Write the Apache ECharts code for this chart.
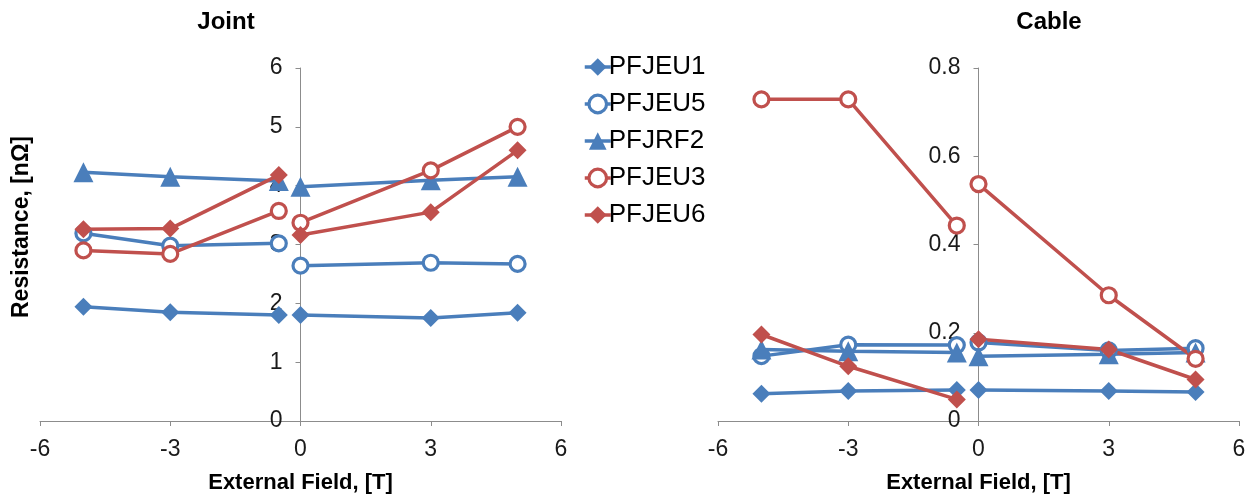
<!DOCTYPE html>
<html>
<head>
<meta charset="utf-8">
<script src="https://cdn.jsdelivr.net/npm/echarts@6/dist/echarts.min.js"></script>
<style>
  html, body { margin: 0; padding: 0; background: #fff; }
  #chart { width: 1249px; height: 494px; }
</style>
</head>
<body>
<div id="chart"></div>
<script>
// external field values (T), same for both panels
const fieldT = [-5, -3, -0.5, 0, 3, 5];
const seriesNames = ['PFJEU1', 'PFJEU5', 'PFJRF2', 'PFJEU3', 'PFJEU6'];
const xTicks = [-6, -3, 0, 3, 6];

// Joint resistance, nOhm
const jointPFJEU1 = [1.94, 1.85, 1.80, 1.80, 1.75, 1.84];
const jointPFJEU5 = [3.19, 2.98, 3.02, 2.64, 2.69, 2.67];
const jointPFJRF2 = [4.23, 4.15, 4.08, 3.98, 4.09, 4.15];
const jointPFJEU3 = [2.90, 2.84, 3.57, 3.37, 4.26, 5.00];
const jointPFJEU6 = [3.26, 3.27, 4.18, 3.16, 3.55, 4.60];

// Cable resistance, nOhm
const cablePFJEU1 = [0.062, 0.068, 0.070, 0.070, 0.068, 0.066];
const cablePFJEU5 = [0.147, 0.173, 0.172, 0.178, 0.160, 0.165];
const cablePFJRF2 = [0.162, 0.158, 0.155, 0.147, 0.151, 0.155];
const cablePFJEU3 = [0.729, 0.729, 0.443, 0.537, 0.285, 0.141];
const cablePFJEU6 = [0.196, 0.124, 0.049, 0.185, 0.162, 0.094];

const joint = [jointPFJEU1, jointPFJEU5, jointPFJRF2, jointPFJEU3, jointPFJEU6];
const cable = [cablePFJEU1, cablePFJEU5, cablePFJRF2, cablePFJEU3, cablePFJEU6];

const BLUE = '#4a7ebb';
const RED = '#c0504d';
const FONT = 'Liberation Sans, Arial, sans-serif';

// panel boxes
const gridW = 521;
const panels = [{ left: 40 }, { left: 718 }];

// marker style per series
const looks = {
    PFJEU1: { color: BLUE, symbol: 'diamond', size: 18, empty: false },
    PFJEU5: { color: BLUE, symbol: 'circle', size: 15, empty: true },
    PFJRF2: { color: BLUE, symbol: 'triangle', size: 20, empty: false },
    PFJEU3: { color: RED, symbol: 'circle', size: 15, empty: true },
    PFJEU6: { color: RED, symbol: 'diamond', size: 18, empty: false }
};

// lines are broken between -0.5 T and 0 T
function toData(vals) {
    const pts = fieldT.map((x, i) => [x, vals[i]]);
    pts.splice(3, 0, [-0.25, '-']);
    return pts;
}

function markerStyle(lk) {
    return lk.empty
        ? { color: '#fff', borderColor: lk.color, borderWidth: 3.2 }
        : { color: lk.color, borderColor: lk.color, borderWidth: 0 };
}

function makeSeries(vals, name, idx) {
    const lk = looks[name];
    return {
        name: name,
        type: 'line',
        xAxisIndex: idx,
        yAxisIndex: idx,
        data: toData(vals),
        connectNulls: false,
        symbol: lk.symbol,
        symbolSize: lk.size,
        showAllSymbol: true,
        lineStyle: { color: lk.color, width: 3.5 },
        itemStyle: markerStyle(lk),
        emphasis: { disabled: true },
        animation: false
    };
}

function xAxisOf(idx) {
    return {
        type: 'value',
        gridIndex: idx,
        min: xTicks[0],
        max: xTicks[xTicks.length - 1],
        interval: 3,
        name: 'External Field, [T]',
        nameLocation: 'middle',
        nameGap: 51,
        nameTextStyle: { fontFamily: FONT, fontWeight: 'bold', fontSize: 22, color: '#000' },
        axisLine: { onZero: false, lineStyle: { color: '#8c8c8c', width: 1 } },
        axisTick: { show: true, length: 5, lineStyle: { color: '#8c8c8c' } },
        axisLabel: { fontFamily: FONT, fontSize: 23, color: '#1a1a1a', margin: 17 },
        splitLine: { show: false }
    };
}

// y axis sits at x = 0, i.e. the middle of the panel
function yAxisOf(idx, max, step) {
    return {
        type: 'value',
        gridIndex: idx,
        position: 'left',
        offset: -gridW / 2,
        min: 0,
        max: max,
        interval: step,
        axisLine: { show: true, onZero: false, lineStyle: { color: '#8c8c8c', width: 1 } },
        axisTick: { show: true, length: 5, lineStyle: { color: '#8c8c8c' } },
        axisLabel: { fontFamily: FONT, fontSize: 23, color: '#1a1a1a', margin: 18 },
        splitLine: { show: false }
    };
}

const chart = echarts.init(document.getElementById('chart'));

const series = [];
seriesNames.forEach((n, i) => series.push(makeSeries(joint[i], n, 0)));
seriesNames.forEach((n, i) => series.push(makeSeries(cable[i], n, 1)));

chart.setOption({
    backgroundColor: '#fff',
    animation: false,
    grid: panels.map(p => ({
        left: p.left, width: gridW, top: 68, height: 353,
        outerBoundsMode: 'none', containLabel: false
    })),
    xAxis: [xAxisOf(0), xAxisOf(1)],
    yAxis: [yAxisOf(0, 6, 1), yAxisOf(1, 0.8, 0.2)],
    legend: {
        orient: 'vertical',
        left: 578,
        top: 49,
        itemWidth: 26,
        itemHeight: 22,
        itemGap: 11,
        data: seriesNames.map(n => ({
            name: n,
            itemStyle: markerStyle(looks[n]),
            lineStyle: { color: looks[n].color, width: 3.5 }
        })),
        textStyle: { fontFamily: FONT, fontSize: 26, color: '#000', padding: [0, 0, 0, -7] }
    },
    graphic: [
        {
            type: 'text', x: 226, y: 22,
            style: { text: 'Joint', font: 'bold 24px ' + FONT, fill: '#000',
                align: 'center', verticalAlign: 'middle', textAlign: 'center', textVerticalAlign: 'middle' }
        },
        {
            type: 'text', x: 1049, y: 22,
            style: { text: 'Cable', font: 'bold 24px ' + FONT, fill: '#000',
                align: 'center', verticalAlign: 'middle', textAlign: 'center', textVerticalAlign: 'middle' }
        },
        {
            type: 'text', x: 22, y: 227, rotation: Math.PI / 2,
            style: { text: 'Resistance, [nΩ]', font: 'bold 23px ' + FONT, fill: '#000',
                align: 'center', verticalAlign: 'middle', textAlign: 'center', textVerticalAlign: 'middle' }
        }
    ],
    series: series
});
</script>
</body>
</html>
